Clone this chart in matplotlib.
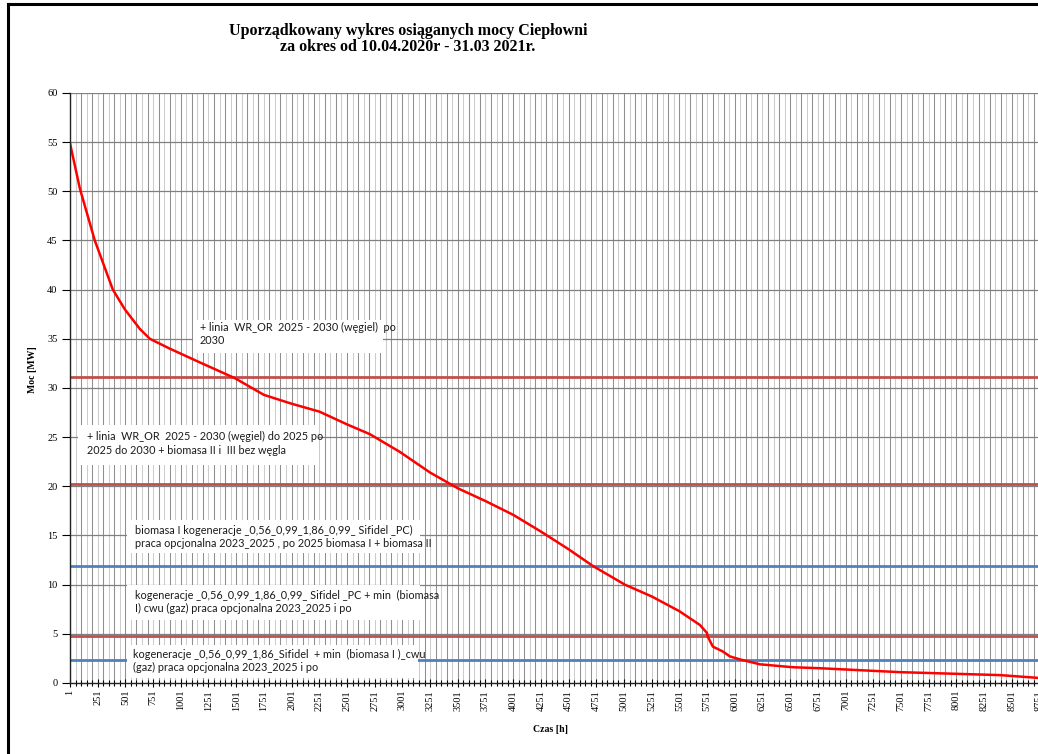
import matplotlib
matplotlib.use("Agg")
import matplotlib.pyplot as plt
from matplotlib.patches import Rectangle
from matplotlib.lines import Line2D

# uporzadkowany wykres mocy (odczyt z wykresu)
hours = [1, 90, 225, 388, 496, 632, 722, 902, 1173, 1489, 1751, 2001, 2251,
         2501, 2708, 2978, 3251, 3501, 3751, 4001, 4251, 4501, 4720, 5009, 5251,
         5501, 5686, 5749, 5758, 5803, 5893, 5957, 6047, 6227, 6525, 6769, 7491,
         8394, 8760]
moc = [54.9, 50.3, 45.0, 40.0, 38.0, 36.0, 35.0, 34.0, 32.6, 31.0, 29.3, 28.4, 27.6,
       26.3, 25.3, 23.5, 21.4, 19.8, 18.5, 17.1, 15.4, 13.6, 11.9, 10.0, 8.8,
       7.3, 5.9, 5.1, 4.7, 3.7, 3.2, 2.7, 2.4, 1.9, 1.6, 1.5, 1.1, 0.8, 0.5]

# linie poziome (moc zainstalowana wariantow)
line_levels = [31.1, 20.2, 11.9, 4.8, 2.3]
line_colors = ['#C0504D', '#C0504D', '#4F81BD', '#C0504D', '#4F81BD']

box_texts = [
    "+ linia  WR_OR  2025 - 2030 (węgiel)  po\n2030",
    "+ linia  WR_OR  2025 - 2030 (węgiel) do 2025 po\n2025 do 2030 + biomasa II i  III bez węgla",
    "biomasa I kogeneracje _0,56_0,99_1,86_0,99_ Sifidel _PC)\npraca opcjonalna 2023_2025 , po 2025 biomasa I + biomasa II",
    "kogeneracje _0,56_0,99_1,86_0,99_ Sifidel _PC + min  (biomasa\nI) cwu (gaz) praca opcjonalna 2023_2025 i po",
    "kogeneracje _0,56_0,99_1,86_Sifidel  + min  (biomasa I )_cwu\n(gaz) praca opcjonalna 2023_2025 i po",
]

x_ticks = list(range(1, 8760, 250))
y_ticks = list(range(0, 61, 5))

title = "Uporządkowany wykres osiąganych mocy Ciepłowni\nza okres od 10.04.2020r - 31.03 2021r."

serif = 'Liberation Serif'

fig = plt.figure(figsize=(10.38, 7.54), dpi=100)
fig.patch.set_facecolor('white')
ax = fig.add_axes([0.0674, 0.0942, 0.935, 0.7825])

ax.set_xlim(1, 8760)
ax.set_ylim(0, 60)

# siatka pionowa co 50 h (naprzemiennie ciemna / jasna)
for i, h in enumerate(range(1, 8760, 50)):
    c = '#8f8f8f' if i % 2 == 0 else '#cccccc'
    ax.axvline(h, color=c, lw=0.75, zorder=1)
for v in y_ticks[1:]:
    ax.axhline(v, color='#808080', lw=0.9, zorder=1)

# ramki z opisami
boxes = [(1111, 33.56, 1715, 3.36), (73, 22.17, 2166, 4.07), (515, 13.22, 2644, 3.36),
         (515, 6.41, 2644, 3.56), (515, 0.51, 2626, 3.35)]
text_pos = [(1174, 36.7), (154, 25.6), (588, 16.1), (588, 9.46), (570, 3.46)]
for (bx, by, bw, bh), (tx, ty), t in zip(boxes, text_pos, box_texts):
    ax.add_patch(Rectangle((bx, by), bw, bh, facecolor='white', edgecolor='none', zorder=2))
    ax.text(tx, ty, t, fontsize=7.8, family='Lato', va='top', ha='left',
            linespacing=1.25, zorder=5, color='#1a1a1a')

for lvl, c in zip(line_levels, line_colors):
    ax.plot([1, 8760], [lvl, lvl], color=c, lw=2.0, zorder=3)
# linia 2.3 zakryta przez ramke
ax.add_patch(Rectangle(boxes[4][:2], boxes[4][2], boxes[4][3], facecolor='white',
                       edgecolor='none', zorder=3.5))

ax.plot(hours, moc, color='#FF0000', lw=1.8, zorder=4)

ax.set_xticks(x_ticks)
ax.set_xticks(list(range(1, 8760, 50)), minor=True)
ax.set_xticklabels([str(t) for t in x_ticks], rotation=90, fontsize=7.5, family=serif)
ax.set_yticks(y_ticks)
ax.set_yticklabels([str(t) for t in y_ticks], fontsize=7.5, family=serif)
ax.tick_params(axis='x', which='major', direction='inout', length=6, width=0.8, pad=2)
ax.tick_params(axis='x', which='minor', direction='inout', length=4, width=0.8)
ax.tick_params(axis='y', direction='out', length=6, width=0.8, pad=3)

for s in ['top', 'right']:
    ax.spines[s].set_visible(False)
for s in ['left', 'bottom']:
    ax.spines[s].set_color('#222222')
    ax.spines[s].set_linewidth(1.0)
    ax.spines[s].set_zorder(6)

fig.text(0.393, 0.970, title, ha='center', va='top', fontsize=11.5, family=serif,
         fontweight='bold', linespacing=1.05)
fig.text(0.031, 0.51, "Moc [MW]", rotation=90, ha='center', va='center', fontsize=7,
         family=serif, fontweight='bold')
fig.text(0.530, 0.032, "Czas [h]", ha='center', va='center', fontsize=7,
         family=serif, fontweight='bold')

# ramka obrazu
fig.add_artist(Line2D([0.008, 0.008], [0, 0.995], color='black', lw=2.2))
fig.add_artist(Line2D([0.008, 1.0], [0.995, 0.995], color='black', lw=2.2))

fig.savefig('out.png', dpi=100, facecolor='white')
